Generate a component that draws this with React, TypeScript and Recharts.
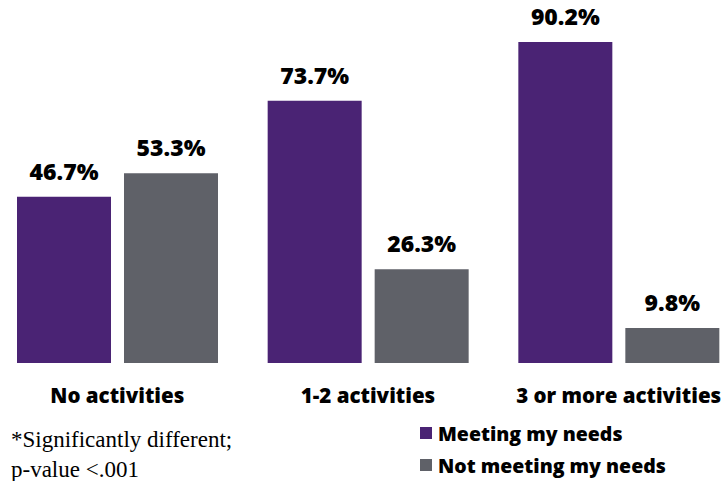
import { BarChart, Bar, XAxis, YAxis, LabelList, Legend } from 'recharts'

const categories = ['No activities', '1-2 activities', '3 or more activities']
const meeting = [46.7, 73.7, 90.2]
const notMeeting = [53.3, 26.3, 9.8]
const seriesNames = ['Meeting my needs', 'Not meeting my needs']

const PURPLE = '#4a2374'
const GRAY = '#5f6168'
const FONT = '"Open Sans", sans-serif'
const WEIGHT = 800

const data = categories.map((name, i) => ({
  name,
  meeting: meeting[i],
  notMeeting: notMeeting[i],
}))

function LegendBox() {
  const items = [
    { label: seriesNames[0], color: PURPLE },
    { label: seriesNames[1], color: GRAY },
  ]
  return (
    <div style={{ fontFamily: FONT }}>
      {items.map((it) => (
        <div
          key={it.label}
          style={{ display: 'flex', alignItems: 'center', height: 32, fontSize: 19.5, fontWeight: WEIGHT, color: '#000' }}
        >
          <span style={{ width: 12, height: 12, background: it.color, marginRight: 6, display: 'inline-block' }} />
          {it.label}
        </div>
      ))}
    </div>
  )
}

export default function App() {
  const labelStyle = { fontSize: 23, fontWeight: WEIGHT, fill: '#000', fontFamily: FONT }

  return (
    <div
      style={{
        position: 'fixed',
        top: 0,
        left: 0,
        width: 726,
        height: 481,
        overflow: 'hidden',
        background: '#fff',
      }}
    >
      <div style={{ position: 'absolute', left: -8, top: 0 }}>
        <BarChart
          width={752}
          height={481}
          data={data}
          margin={{ top: 7, right: 0, left: 0, bottom: 78 }}
          barSize={94}
          barGap={13}
        >
          <XAxis
            dataKey="name"
            tickLine={false}
            axisLine={false}
            tickMargin={19}
            height={40}
            interval={0}
            tick={{ fontSize: 20.5, fontWeight: WEIGHT, fill: '#000', fontFamily: FONT }}
          />
          <YAxis hide domain={[0, 100]} />
          <Legend
            layout="vertical"
            align="center"
            verticalAlign="middle"
            content={() => <LegendBox />}
            wrapperStyle={{ position: 'absolute', left: 428, top: 417, width: 300 }}
          />
          <Bar dataKey="meeting" name={seriesNames[0]} fill={PURPLE} isAnimationActive={false}>
            <LabelList dataKey="meeting" position="top" offset={17} formatter={(v: number) => `${v}%`} style={labelStyle} />
          </Bar>
          <Bar dataKey="notMeeting" name={seriesNames[1]} fill={GRAY} isAnimationActive={false}>
            <LabelList dataKey="notMeeting" position="top" offset={17} formatter={(v: number) => `${v}%`} style={labelStyle} />
          </Bar>
        </BarChart>
      </div>
      <div
        style={{
          position: 'absolute',
          left: 11,
          top: 425,
          fontFamily: '"Liberation Serif", serif',
          fontSize: 23,
          lineHeight: '30px',
          color: '#000',
          whiteSpace: 'nowrap',
        }}
      >
        <div>*Significantly different;</div>
        <div>p-value &lt;.001</div>
      </div>
    </div>
  )
}
